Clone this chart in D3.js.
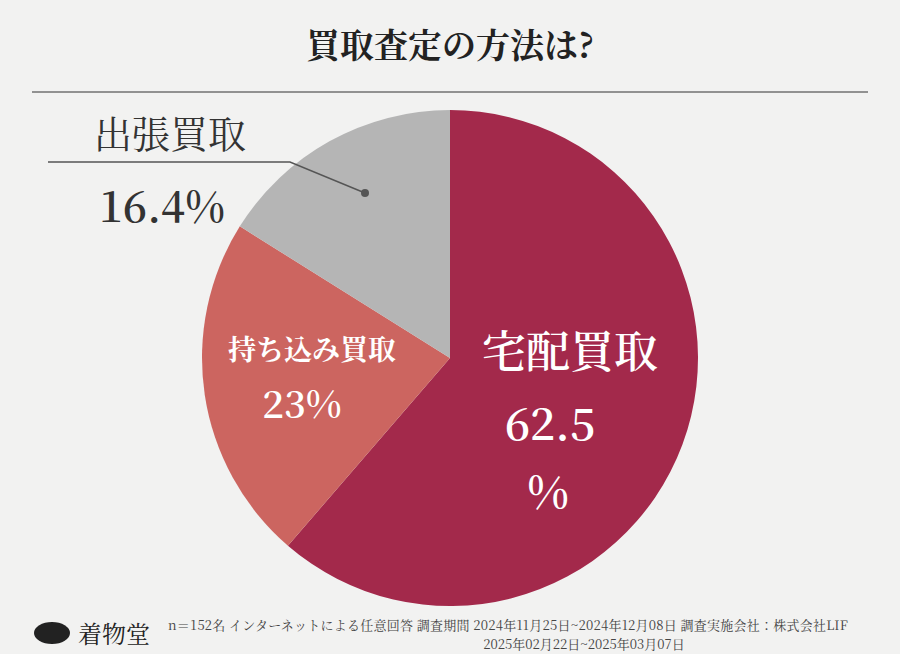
<!DOCTYPE html><html><head><meta charset="utf-8">
<script src="https://cdn.jsdelivr.net/npm/d3@7"></script>
<style>body{margin:0;background:#f2f2f1}svg{display:block}</style></head><body>
<script>
const categories=["宅配買取","持ち込み買取","出張買取"];
const values=[62.5,23,16.4];
const valueLabels=["62.5","23%","16.4%"];
const colors=["#a3294b","#cc6560","#b5b5b5"];
const W=900,H=654,cx=450,cy=358,R=248;
const svg=d3.select("body").append("svg").attr("width",W).attr("height",H);
svg.append("rect").attr("width",W).attr("height",H).attr("fill","#f2f2f1");
const serif="'Noto Serif CJK JP','Noto Sans CJK JP',serif";
svg.append("text").attr("x",450).attr("y",58).attr("text-anchor","middle").attr("font-family",serif).attr("font-weight","bold").attr("font-size",34).attr("fill","#222").text("買取査定の方法は?");
svg.append("line").attr("x1",32).attr("x2",868).attr("y1",92).attr("y2",92).attr("stroke","#333").attr("stroke-width",1);
const pie=d3.pie().sort(null).value(d=>d)(values);
const arc=d3.arc().innerRadius(0).outerRadius(R);
const g=svg.append("g").attr("transform",`translate(${cx},${cy})`);
g.selectAll("path").data(pie).join("path").attr("d",arc).attr("fill",(d,i)=>colors[i]);
const t=svg.append("g").attr("font-family",serif).attr("text-anchor","middle");
t.append("text").attr("x",570).attr("y",368).attr("font-size",44).attr("font-weight",600).attr("fill","#fff").text(categories[0]);
t.append("text").attr("x",550).attr("y",440).attr("font-size",44).attr("font-weight",600).attr("fill","#fff").text(valueLabels[0]);
t.append("text").attr("x",548).attr("y",508).attr("font-size",44).attr("font-weight",600).attr("fill","#fff").text("%");
t.append("text").attr("x",312).attr("y",360).attr("font-size",28).attr("fill","#fff").attr("font-weight","bold").text(categories[1]);
t.append("text").attr("x",302).attr("y",418).attr("font-size",38).attr("font-weight",600).attr("fill","#fff").text(valueLabels[1]);
t.append("text").attr("x",170).attr("y",148).attr("font-size",38).attr("fill","#333").text(categories[2]);
t.append("text").attr("x",162).attr("y",222).attr("font-size",42).attr("font-weight",600).attr("fill","#333").text(valueLabels[2]);
svg.append("polyline").attr("points","48,162 290,162 365,193").attr("fill","none").attr("stroke","#555").attr("stroke-width",1.5);
svg.append("circle").attr("cx",365).attr("cy",193).attr("r",4).attr("fill","#555");
svg.append("ellipse").attr("cx",52).attr("cy",633).attr("rx",18).attr("ry",11).attr("fill","#222");
svg.append("text").attr("x",78).attr("y",643).attr("font-family",serif).attr("font-size",24).attr("fill","#222").text("着物堂");
const f=svg.append("g").attr("font-family",serif).attr("font-size",13).attr("fill","#444");
f.append("text").attr("x",168).attr("y",630).attr("textLength",680).text("n＝152名 インターネットによる任意回答 調査期間 2024年11月25日~2024年12月08日 調査実施会社：株式会社LIF");
f.append("text").attr("x",584).attr("y",649).attr("text-anchor","middle").text("2025年02月22日~2025年03月07日");
</script></body></html>
